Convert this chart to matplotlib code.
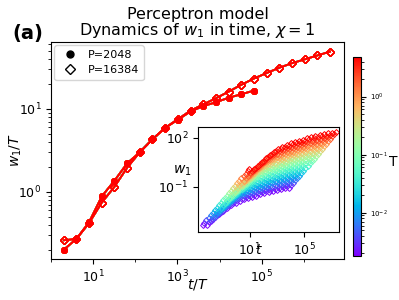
import numpy as np
import matplotlib
matplotlib.use("Agg")
import matplotlib.pyplot as plt
from matplotlib.colors import LogNorm
from matplotlib.ticker import LogLocator, NullFormatter

# temperatures (colour scale)
T_values = [0.0018, 0.0025, 0.0035, 0.005, 0.007, 0.01, 0.014, 0.02, 0.028,
            0.04, 0.056, 0.08, 0.11, 0.16, 0.22, 0.32, 0.45, 0.63, 0.9,
            1.25, 1.8, 2.5, 3.5, 4.8]

# rescaled time t/T (powers of two)
tT_big = [2, 4, 8, 16, 32, 64, 128, 256, 512, 1024, 2048, 4096, 8192, 16384,
          32768, 65536, 131072, 262144, 524288, 1048576, 2097152, 4194304]
tT_small = tT_big[:16]

# rescaled weight w1/T (collapsed curves)
w1T_big = [0.26, 0.27, 0.42, 0.74, 1.15, 1.95, 3.0, 4.3, 5.9, 7.5, 9.5, 11.3,
           13.4, 16.1, 19.5, 23.2, 27.0, 31.3, 35.5, 39.5, 44.0, 49.0]
w1T_small = [0.20, 0.27, 0.43, 0.88, 1.36, 2.2, 3.0, 4.3, 5.9, 7.4, 9.3, 10.8,
             12.0, 13.6, 15.0, 16.6]

norm = LogNorm(vmin=min(T_values), vmax=max(T_values))
cmap = plt.cm.rainbow

fig = plt.figure(figsize=(3.99, 3.0), dpi=100)
ax = fig.add_axes([0.128, 0.137, 0.734, 0.723])

for T in T_values:
    c = cmap(norm(T))
    ax.plot(tT_small, w1T_small, '-o', color=c, ms=4, lw=1.2)
    ax.plot(tT_big, w1T_big, '-D', color=c, mfc='none', ms=4.5, lw=1.2)

ax.set_xscale('log')
ax.set_yscale('log')
ax.set_xlim(1, 9e6)
ax.set_ylim(0.155, 64)
ax.set_xticks([1e1, 1e3, 1e5])
ax.xaxis.set_minor_locator(LogLocator(base=10, subs=(1.0,), numticks=20))
ax.xaxis.set_minor_formatter(NullFormatter())
ax.set_xlabel('$t/T$', fontsize=10, va='center')
ax.xaxis.set_label_coords(0.5, -0.12)
ax.set_ylabel('$w_1/T$', fontsize=10, va='center')
ax.yaxis.set_label_coords(-0.12, 0.5)
ax.tick_params(labelsize=9)
ax.set_title('Perceptron model\nDynamics of $w_1$ in time, $\\chi=1$',
             fontsize=11.5, linespacing=0.95, pad=5)

h1, = ax.plot([], [], 'o', color='k', ms=5, ls='none')
h2, = ax.plot([], [], 'D', color='k', mfc='none', ms=5, ls='none')
ax.legend([h1, h2], ['P=2048', 'P=16384'], loc='upper left', fontsize=8,
          borderaxespad=0.3, handletextpad=0.6)

fig.text(0.03, 0.89, '(a)', fontsize=14, fontweight='bold', va='center')

# inset: raw w1 vs t
ins = fig.add_axes([0.496, 0.227, 0.353, 0.35])
for T in T_values:
    c = cmap(norm(T))
    t = np.array(tT_big) * T
    w = np.array(w1T_big) * T
    ins.plot(t, w, 'D', color=c, mfc='none', ms=3, mew=0.7)
ins.set_xscale('log')
ins.set_yscale('log')
ins.set_xlim(10**-2.78, 10**7.5)
ins.set_ylim(10**-3.76, 10**2.67)
ins.set_xticks([1e1, 1e5])
ins.set_yticks([1e-1, 1e2])
ins.minorticks_off()
ins.tick_params(labelsize=9)
ins.set_xlabel('$t$', fontsize=10)
ins.set_ylabel('$w_1$', fontsize=10, rotation=0, va='center', ha='center')
ins.xaxis.set_label_coords(0.43, -0.11)
ins.yaxis.set_label_coords(-0.11, 0.58)

# colorbar
cax = fig.add_axes([0.884, 0.147, 0.02, 0.663])
sm = plt.cm.ScalarMappable(norm=norm, cmap=cmap)
cb = fig.colorbar(sm, cax=cax)
cb.ax.tick_params(labelsize=5)
cb.set_label('T', rotation=0, fontsize=10, va='center', ha='center')
cb.ax.yaxis.set_label_coords(5.1, 0.47)

fig.savefig('out.png', dpi=100)
